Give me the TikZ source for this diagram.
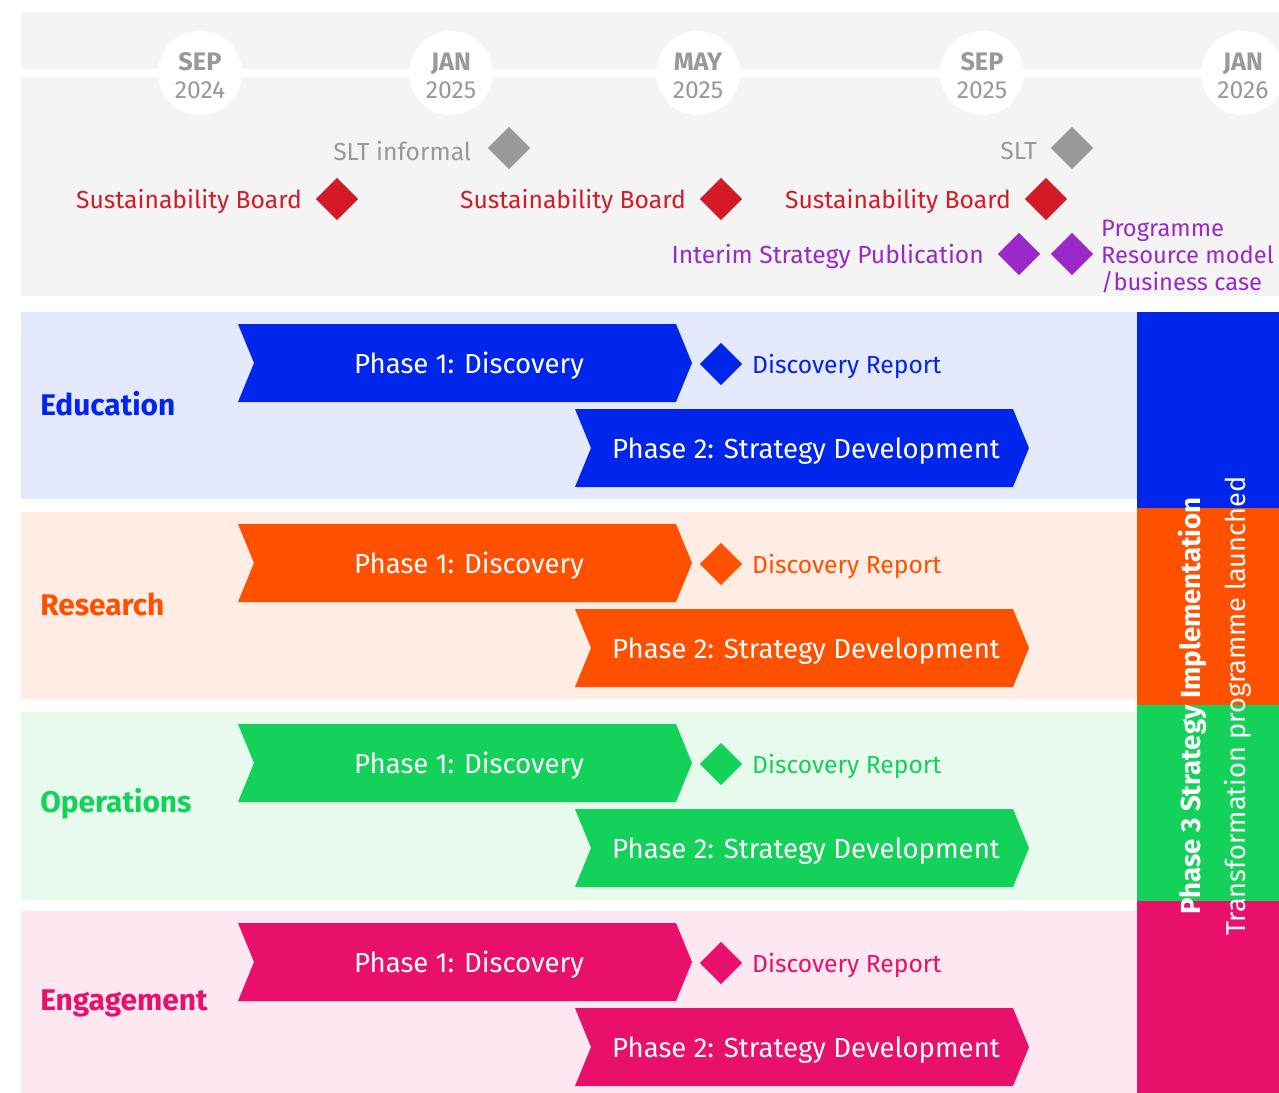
\documentclass[tikz,border=0pt]{standalone}
\usepackage{fontspec}
\setmainfont{Fira Sans}
\usetikzlibrary{positioning}
\usetikzlibrary{shapes.geometric}

\definecolor{edu}{RGB}{0,37,235}
\definecolor{res}{RGB}{255,80,0}
\definecolor{ops}{RGB}{20,209,89}
\definecolor{eng}{RGB}{232,16,106}
\definecolor{board}{RGB}{213,26,39}
\definecolor{slt}{RGB}{153,153,153}
\definecolor{interim}{RGB}{155,40,200}
\definecolor{panel}{RGB}{244,244,244}

\tikzset{
  milestone/.style={diamond, fill=#1, minimum size=32pt, inner sep=0pt},
  mstext/.style={text=#1, inner sep=0pt, yshift=-2pt, font=\fontsize{18.5}{20}\selectfont},
  monthdot/.style={circle, fill=white, minimum size=63pt, inner sep=0pt, text=slt, align=center, font=\fontsize{18.5}{21}\selectfont},
  phasetext/.style={text=white, inner sep=0pt, font=\fontsize{20.7}{22}\selectfont},
  rowtitle/.style={text=#1, inner sep=0pt, anchor=west, font=\bfseries\fontsize{22.4}{24}\selectfont},
}

% chevron: name, left x, top y, width, colour, text
\newcommand{\phasebar}[6]{%
  \fill[#5] (#2,#3) -- ++(#4,0) -- ++(16,39) -- ++(-16,39) -- ++(-#4,0) -- ++(16,-39) -- cycle;
  \node[phasetext] (#1) at (#2+#4/2+12,#3+42) {#6};
}
\newcommand{\mon}[2]{{\bfseries\fontsize{19}{21}\selectfont #1}\\#2}

\begin{document}
\begin{tikzpicture}[x=0.75pt, y=-0.75pt]
  \useasboundingbox (0,0) rectangle (1279,1093);

  % timeline panel
  \fill[panel] (21,12) rectangle (1279,296);
  \path (21,73) coordinate (tlstart) (1279,73) coordinate (tlend);
  \draw[white, line width=5.3pt] (tlstart) -- (tlend);
  \node[monthdot] (m1) at (200,73) {};
  \node[monthdot] (m2) at (451,73) {};
  \node[monthdot] (m3) at (698,73) {};
  \node[monthdot] (m4) at (982,73) {};
  \node[monthdot] (m5) at (1243,73) {};
  \node[text=slt, align=center, font=\fontsize{18.5}{21}\selectfont] (m1t) at (200,76) {\mon{SEP}{2024}};
  \node[text=slt, align=center, font=\fontsize{18.5}{21}\selectfont] (m2t) at (451,76) {\mon{JAN}{2025}};
  \node[text=slt, align=center, font=\fontsize{18.5}{21}\selectfont] (m3t) at (698,76) {\mon{MAY}{2025}};
  \node[text=slt, align=center, font=\fontsize{18.5}{21}\selectfont] (m4t) at (982,76) {\mon{SEP}{2025}};
  \node[text=slt, align=center, font=\fontsize{18.5}{21}\selectfont] (m5t) at (1243,76) {\mon{JAN}{2026}};

  % milestones
  \node[milestone=slt] (s1) at (509,148) {};
  \node[mstext=slt, left=12pt of s1] (s1t) {SLT informal};
  \node[milestone=slt] (s2) at (1072,148) {};
  \node[mstext=slt, left=10pt of s2] (s2t) {SLT};
  \node[milestone=board] (b1) at (337,199) {};
  \node[mstext=board, left=10pt of b1] (b1t) {Sustainability Board};
  \node[milestone=board] (b2) at (721,199) {};
  \node[mstext=board, left=10pt of b2] (b2t) {Sustainability Board};
  \node[milestone=board] (b3) at (1046,199) {};
  \node[mstext=board, left=10pt of b3] (b3t) {Sustainability Board};
  \node[milestone=interim] (p1) at (1019,254) {};
  \node[mstext=interim, left=10pt of p1] (p1t) {Interim Strategy Publication};
  \node[milestone=interim] (p2) at (1072,254) {};
  \node[mstext=interim, right=5.5pt of p2, align=left, font=\fontsize{17.8}{20}\selectfont] (p2t) {Programme\\Resource model\\/business case};

  % workstreams
  \foreach \ws/\off/\title/\h in {edu/0/Education/187, res/200/Research/187, ops/400/Operations/188, eng/599/Engagement/182} {
    \fill[\ws!10] (21,312+\off) rectangle (1137,312+\off+\h);
    \node[rowtitle=\ws] (\ws title) at (40,404+\off) {\title};
    \phasebar{\ws one}{238}{324+\off}{438}{\ws}{Phase 1: Discovery}
    \phasebar{\ws two}{575}{409+\off}{438}{\ws}{Phase 2: Strategy Development}
    \node[milestone=\ws] (\ws rep) at (721,364+\off) {};
    \node[mstext=\ws, right=7pt of \ws rep] (\ws rept) {Discovery Report};
  }

  % phase 3 bar
  \fill[edu] (1137,312) rectangle (1279,508);
  \fill[res] (1137,508) rectangle (1279,705);
  \fill[ops] (1137,705) rectangle (1279,901);
  \fill[eng] (1137,901) rectangle (1279,1093);
  \node[rotate=90, text=white, inner sep=0pt, font=\bfseries\fontsize{20.7}{22}\selectfont] (impl) at (1192,706) {Phase 3 Strategy Implementation};
  \node[rotate=90, text=white, inner sep=0pt, font=\fontsize{20.4}{22}\selectfont] (launch) at (1238,706) {Transformation programme launched};
\end{tikzpicture}
\end{document}
